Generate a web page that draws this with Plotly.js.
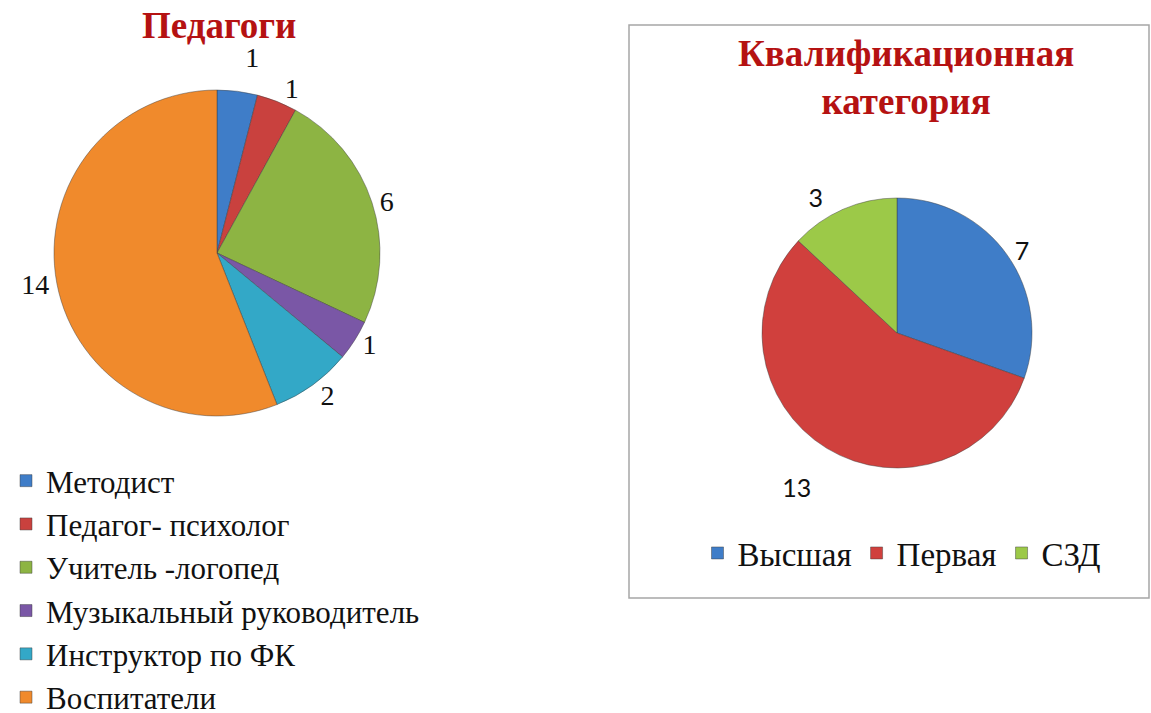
<!DOCTYPE html>
<html>
<head>
<meta charset="utf-8">
<script src="https://cdn.plot.ly/plotly-3.0.1.min.js"></script>
<style>html,body{margin:0;padding:0;background:#fff;}#chart{width:1151px;height:713px;}path.textline{display:none;}</style>
</head>
<body>
<div id="chart"></div>
<script>
// Left chart: Педагоги
var staffCategories = ["Методист", "Педагог- психолог", "Учитель -логопед", "Музыкальный руководитель", "Инструктор по ФК", "Воспитатели"];
var staffValues = [1, 1, 6, 1, 2, 14];
var staffColors = ["#3F7DC8", "#C9413E", "#8DB443", "#7A57A6", "#33A8C7", "#F08A2C"];

// Right chart: Квалификационная категория
var qualCategories = ["Высшая", "Первая", "СЗД"];
var qualValues = [7, 13, 3];
var qualColors = ["#3F7DC8", "#D0403D", "#9CC948"];
// label templates (extra blank line / spacing pushes labels a bit further from the pie)
var qualLabelTemplates = ["%{value}", "\u00A0<br>%{value}", "%{value}\u00A0\u00A0"];

var W = 1151, H = 713;
function px(x){ return x / W; }
function py(y){ return 1 - y / H; }

var serif = "Liberation Serif";

var leftPie = {
  type: "pie",
  labels: staffCategories,
  values: staffValues,
  sort: false,
  direction: "clockwise",
  rotation: 0,
  textinfo: "value",
  textposition: "outside",
  textfont: {family: serif, size: 28, color: "#111"},
  outsidetextfont: {family: serif, size: 28, color: "#111"},
  marker: {colors: staffColors, line: {color: "rgba(60,60,60,0.45)", width: 1}},
  domain: {x: [px(54), px(380)], y: [py(416), py(90)]},
  hoverinfo: "none",
  legend: "legend"
};

var rightPie = {
  type: "pie",
  labels: qualCategories,
  values: qualValues,
  sort: false,
  direction: "clockwise",
  rotation: 0,
  texttemplate: qualLabelTemplates,
  textposition: "outside",
  textfont: {family: "Lato", size: 25, color: "#111"},
  outsidetextfont: {family: "Lato", size: 25, color: "#111"},
  marker: {colors: qualColors, line: {color: "rgba(60,60,60,0.45)", width: 1}},
  domain: {x: [px(762), px(1032)], y: [py(470), py(196)]},
  hoverinfo: "none",
  legend: "legend2"
};

var layout = {
  width: W, height: H,
  margin: {l: 0, r: 0, t: 0, b: 0, autoexpand: false},
  font: {family: serif, size: 24, color: "#111"},
  paper_bgcolor: "#ffffff",
  showlegend: true,
  legend: {
    x: px(6), y: py(454), xanchor: "left", yanchor: "top",
    orientation: "v",
    font: {family: serif, size: 31, color: "#111"},
    bgcolor: "rgba(0,0,0,0)", traceorder: "normal"
  },
  legend2: {
    x: px(902), y: py(553), xanchor: "center", yanchor: "middle",
    orientation: "h",
    font: {family: serif, size: 33, color: "#111"},
    bgcolor: "rgba(0,0,0,0)"
  },
  shapes: [{
    type: "rect", xref: "paper", yref: "paper",
    x0: px(629), x1: px(1149), y0: py(598), y1: py(25),
    line: {color: "#a6a6a6", width: 1.5}, fillcolor: "rgba(0,0,0,0)"
  }],
  annotations: [
    {text: "<b>Педагоги</b>", xref: "paper", yref: "paper", x: px(219), y: py(25),
     xanchor: "center", yanchor: "middle", showarrow: false,
     font: {family: serif, size: 37, color: "#B51212"}},
    {text: "<b>Квалификационная<br>категория</b>", xref: "paper", yref: "paper", x: px(906), y: py(78),
     xanchor: "center", yanchor: "middle", showarrow: false,
     font: {family: serif, size: 37, color: "#B51212"}}
  ]
};

Plotly.newPlot("chart", [leftPie, rightPie], layout, {displayModeBar: false, staticPlot: true});
</script>
</body>
</html>
